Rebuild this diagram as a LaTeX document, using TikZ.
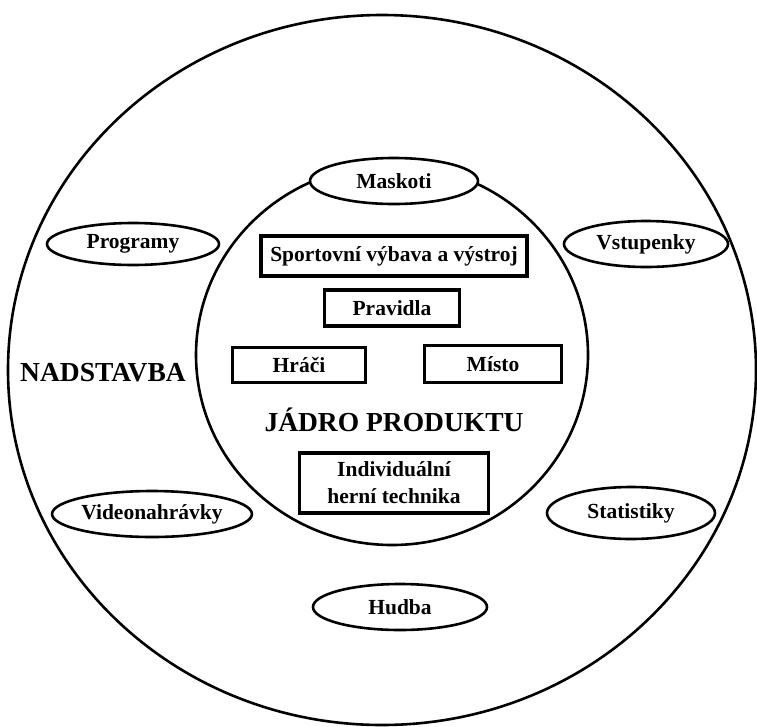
\documentclass[tikz,border=0pt]{standalone}
\usepackage{fontspec}
\setmainfont{Liberation Serif}
\usetikzlibrary{shapes.geometric}

\begin{document}
\begin{tikzpicture}[x=1pt, y=-1pt, line width=2.6pt,
    every node/.style={font=\fontsize{21.5}{27}\selectfont\bfseries, align=center},
    oval/.style={draw, ellipse, fill=white, inner sep=0pt},
    box/.style={draw, rectangle, line width=3.4pt, inner sep=0pt},
    title/.style={font=\fontsize{27.5}{30}\selectfont\bfseries}]
  \useasboundingbox (0,0) rectangle (757,726);
  % outer ring
  \draw (382,370) ellipse [x radius=374pt, y radius=355pt];
  % product core
  \draw (392,355) ellipse [x radius=196pt, y radius=190pt];
  % ovals of the outer ring
  \node[oval, minimum width=168pt, minimum height=46pt] (maskoti) at (394,181) {Maskoti};
  \node[oval, minimum width=172pt, minimum height=42pt] (programy) at (133,244) {Programy};
  \node[oval, minimum width=164pt, minimum height=46pt] (vstupenky) at (646,244) {Vstupenky};
  \node[oval, minimum width=172pt, minimum height=46pt] (video) at (152,514) {Videonahrávky};
  \node[oval, minimum width=168pt, minimum height=52pt] (statistiky) at (631,513) {Statistiky};
  \node[oval, minimum width=174pt, minimum height=46pt] (hudba) at (400,607) {Hudba};
  % boxes of the core
  \node[box, minimum width=266pt, minimum height=40pt] (vybava) at (394,256) {Sportovní výbava a výstroj};
  \node[box, minimum width=135pt, minimum height=36pt] (pravidla) at (392,308) {Pravidla};
  \node[box, minimum width=133pt, minimum height=35pt] (hraci) at (299,365) {Hráči};
  \node[box, minimum width=137pt, minimum height=37pt] (misto) at (493,364) {Místo};
  \node[box, minimum width=189pt, minimum height=60pt] (technika) at (394,483) {Individuální\\herní technika};
  % ring names
  \node[title] (nadstavba) at (103,373) {NADSTAVBA};
  \node[title] (jadro) at (394,420) {JÁDRO PRODUKTU};
\end{tikzpicture}
\end{document}
